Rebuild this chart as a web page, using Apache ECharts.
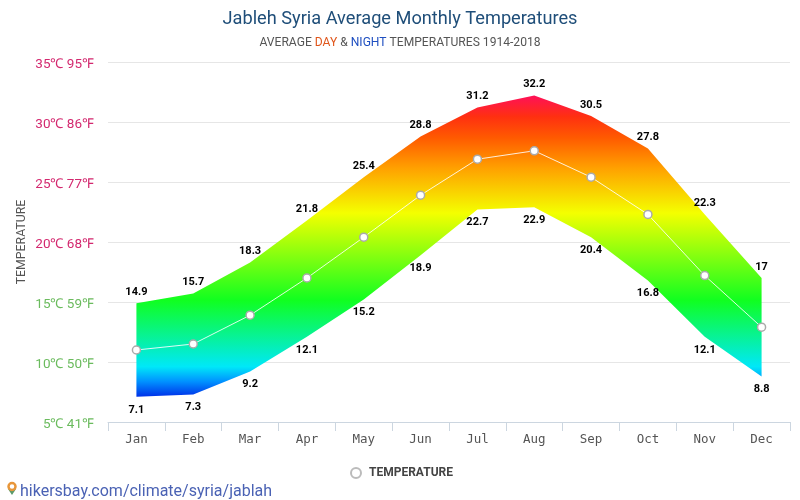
<!DOCTYPE html>
<html><head><meta charset="utf-8">
<style>html,body{margin:0;padding:0;background:#fff}#c{width:800px;height:500px}</style>
<script src="https://cdn.jsdelivr.net/npm/echarts@6/dist/echarts.min.js"></script>
</head><body><div id="c"></div>
<script>
const months=['Jan','Feb','Mar','Apr','May','Jun','Jul','Aug','Sep','Oct','Nov','Dec'];
const dayTemps=[14.9,15.7,18.3,21.8,25.4,28.8,31.2,32.2,30.5,27.8,22.3,17];
const nightTemps=[7.1,7.3,9.2,12.1,15.2,18.9,22.7,22.9,20.4,16.8,12.1,8.8];
const avgTemps=[11,11.5,13.9,17,20.4,23.9,26.9,27.6,25.4,22.3,17.2,12.9];
const fahrenheit={5:41,10:50,15:59,20:68,25:77,30:86,35:95};
const chart=echarts.init(document.getElementById('c'),null,{renderer:'canvas'});
const F='Roboto';
const hidden={color:'transparent',borderWidth:0};
chart.setOption({
  animation:false,
  title:{
    text:'Jableh Syria Average Monthly Temperatures',
    subtext:'{a|AVERAGE }{d|DAY}{a| & }{n|NIGHT}{a| TEMPERATURES 1914-2018}',
    left:'center',top:5,itemGap:9,
    textStyle:{fontFamily:F,fontSize:18.2,fontWeight:'normal',color:'#1f4e79'},
    subtextStyle:{rich:{
      a:{fontFamily:F,fontSize:12.1,color:'#555'},
      d:{fontFamily:F,fontSize:12.1,color:'#e0561b'},
      n:{fontFamily:F,fontSize:12.1,color:'#1f4fc0'}}}
  },
  legend:{
    data:[{name:'TEMPERATURE',icon:'circle',itemStyle:{color:'#fff',borderColor:'#bbb',borderWidth:2}}],
    left:345,top:462,itemWidth:10,itemHeight:10,
    textStyle:{fontFamily:'Roboto',fontSize:12,fontWeight:'bold',color:'#444',padding:[0,0,0,3]}
  },
  grid:{left:108,right:10,top:62,bottom:78},
  xAxis:{
    type:'category',data:months,boundaryGap:true,
    axisLine:{show:true,lineStyle:{color:'#ccd6e0'}},
    axisTick:{show:true,length:9,lineStyle:{color:'#ccd6e0'},alignWithLabel:false},
    axisLabel:{fontFamily:'DejaVu Sans Mono',fontSize:12.5,color:'#555',margin:11},
    splitLine:{show:false}
  },
  yAxis:{
    type:'value',min:5,max:35,interval:5,
    name:'TEMPERATURE',nameLocation:'middle',nameGap:80,nameRotate:90,nameMoveOverlap:false,
    nameTextStyle:{fontFamily:F,fontSize:12.3,color:'#555'},
    axisLine:{show:false},axisTick:{show:false},
    splitLine:{lineStyle:{color:'#e6e6e6'}},
    axisLabel:{fontFamily:F,fontSize:13.5,margin:14,verticalAlign:'top',lineHeight:5,
      color:v=>v>=20?'#d3296f':'#6bbb5e',
      formatter:v=>v+'℃ '+fahrenheit[v]+'℉'}
  },
  series:[
    {name:'night',type:'line',stack:'band',data:nightTemps,symbol:'circle',symbolSize:1,showSymbol:true,itemStyle:hidden,lineStyle:{width:0},silent:true,z:2,
      label:{show:true,position:'bottom',distance:7,fontFamily:F,fontSize:11,fontWeight:'bold',color:'#000'}},
    {name:'day',type:'line',stack:'band',data:dayTemps.map((v,i)=>+(v-nightTemps[i]).toFixed(1)),symbol:'circle',symbolSize:1,showSymbol:true,itemStyle:hidden,lineStyle:{width:0},silent:true,z:2,
      areaStyle:{opacity:1,color:new echarts.graphic.LinearGradient(0,0,0,1,[
        {offset:0,color:'#ff1058'},{offset:.07,color:'#ff3010'},{offset:.14,color:'#ff5a00'},{offset:.24,color:'#ffa000'},
        {offset:.39,color:'#f4ff00'},{offset:.68,color:'#10ff20'},{offset:.9,color:'#00e8f8'},
        {offset:.95,color:'#0090ff'},{offset:1,color:'#0030e8'}])},
      label:{show:true,position:'top',distance:5,fontFamily:F,fontSize:11,fontWeight:'bold',color:'#000',
        formatter:p=>String(dayTemps[p.dataIndex])}},
    {name:'TEMPERATURE',type:'line',data:avgTemps,symbol:'circle',symbolSize:8,z:5,
      lineStyle:{color:'rgba(255,255,255,.85)',width:1},
      itemStyle:{color:'#fff',borderColor:'#aaa',borderWidth:1.5}}
  ],
  graphic:[
    {type:'text',left:20,top:484,style:{text:'hikersbay.com/climate/syria/jablah',fontFamily:F,fontSize:16,fill:'#4a62b4'}},
    {type:'polygon',shape:{points:[[8,489],[16,489],[12,495]]},style:{fill:'#5a9a6a'}},
    {type:'circle',shape:{cx:12,cy:486.5,r:3.5},style:{fill:'#fff',stroke:'#e8963a',lineWidth:2.5}}
  ]
});
</script></body></html>
